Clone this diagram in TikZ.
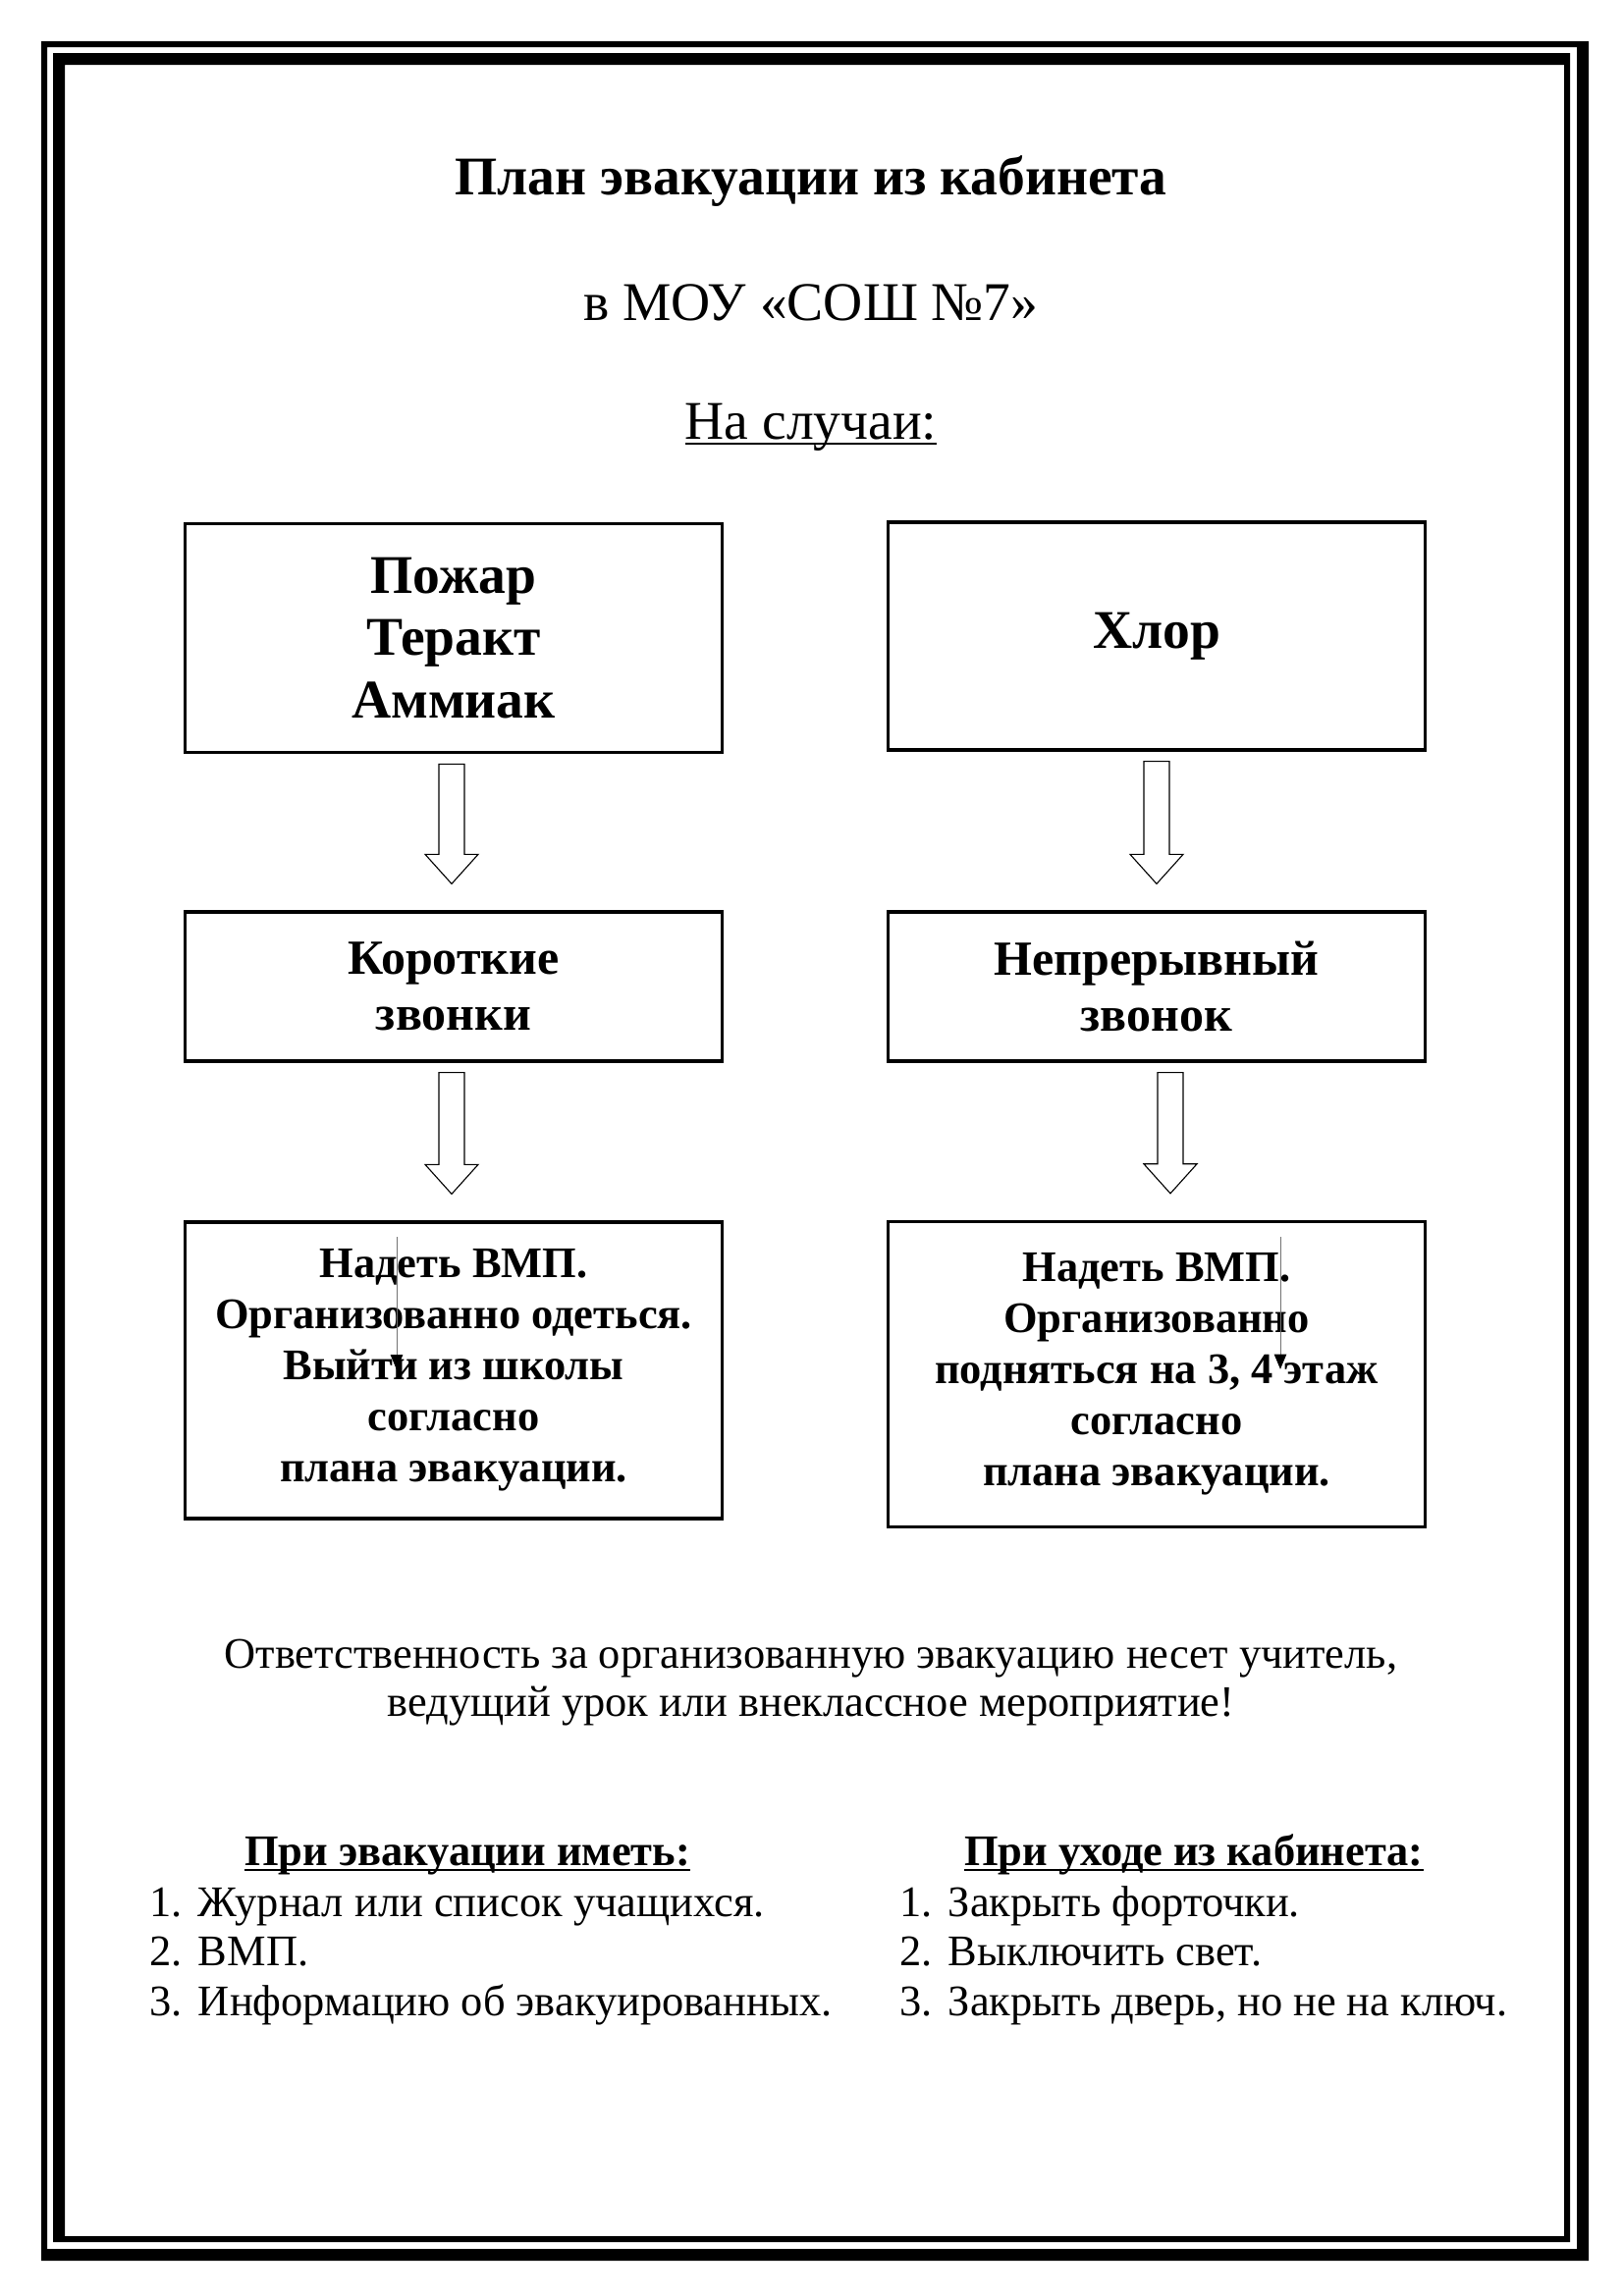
\documentclass[tikz,border=0pt]{standalone}
\usepackage{fontspec}
\setmainfont{Liberation Serif}
\usetikzlibrary{calc,arrows.meta}

% underline at a fixed depth below the baseline
\newcommand{\ulined}[1]{\setbox0\hbox{#1}\rlap{\rule[-2.2pt]{\wd0}{0.9pt}}\box0}

\tikzset{
    casebox/.style={draw,line width=1.2pt,minimum width=196.9pt,align=center,inner sep=0pt},
    bigcase/.style={casebox,minimum height=84pt,font=\bfseries\fontsize{20}{23}\selectfont},
    bellbox/.style={casebox,minimum height=54.7pt,font=\bfseries\fontsize{18}{20.5}\selectfont},
    todobox/.style={casebox,font=\bfseries\fontsize{16}{18.7}\selectfont},
    blockarrow/.style={draw,line width=0.4pt,fill=white},
    stray/.style={draw=black!55,line width=0.35pt,-{Triangle[length=5.5pt,width=4.5pt,color=black]}},
    headline/.style={anchor=base,font=\fontsize{20}{23}\selectfont},
    notice/.style={anchor=base,align=center,font=\fontsize{16}{17.6}\selectfont},
    listhead/.style={anchor=base,font=\bfseries\fontsize{16}{18.2}\selectfont},
    listbody/.style={anchor=base west,inner sep=0pt,font=\fontsize{16}{18.2}\selectfont}
}

% hollow arrow from one box down to the next
\newcommand{\evacarrow}[3]{%
    \draw[blockarrow] ($(#1.south)+(#3-13,10)$) -- ($(#1.south)+(#3+13,10)$)
      -- ($(#2.north)+(#3+13,-57)$) -- ($(#2.north)+(#3+27,-57)$)
      -- ($(#2.north)+(#3,-27)$) -- ($(#2.north)+(#3-27,-57)$)
      -- ($(#2.north)+(#3-13,-57)$) -- cycle;}

\begin{document}
\begin{tikzpicture}[x=0.36pt,y=-0.36pt]
    \useasboundingbox (0,0) rectangle (1653,2339);

    % page frame
    \fill[even odd rule] (42,42) rectangle (1618,2303) (48,48) rectangle (1606,2291);
    \fill[even odd rule] (54,54) rectangle (1599,2284) (66,66) rectangle (1593,2278);

    % heading
    \node[headline,font=\bfseries\fontsize{20}{23}\selectfont] (title) at (826,198) {План эвакуации из кабинета};
    \node[headline] (school) at (826,326) {в МОУ «СОШ №7»};
    \node[headline] (cases) at (826,447) {\ulined{На случаи:}};

    % cases
    \node[bigcase] (fire) at (462,650) {Пожар\\Теракт\\Аммиак};
    \node[bigcase,minimum height=83.5pt] (chlorine) at (1178,648) {Хлор};

    \node[bellbox] (shortbells) at (462,1005) {Короткие\\звонки};
    \node[bellbox] (longbell) at (1178,1005) {Непрерывный\\звонок};

    \node[todobox,minimum height=108.7pt] (leave) at (462,1396)
      {Надеть ВМП.\\Организованно одеться.\\Выйти из школы\\согласно\\плана эвакуации.};
    \node[todobox,minimum height=112pt] (goup) at (1178,1400)
      {Надеть ВМП.\\Организованно\\подняться на 3, 4 этаж\\согласно\\плана эвакуации.};

    \evacarrow{fire}{shortbells}{-2}
    \evacarrow{chlorine}{longbell}{0}
    \evacarrow{shortbells}{leave}{-2}
    \evacarrow{longbell}{goup}{14}

    % stray connectors left inside the boxes
    \coordinate (strayLa) at ($(leave.north)+(-58,17)$);
    \coordinate (strayLb) at ($(leave.north)+(-58,152)$);
    \coordinate (strayRa) at ($(goup.north)+(126,17)$);
    \coordinate (strayRb) at ($(goup.north)+(126,152)$);
    \draw[stray] (strayLa) -- (strayLb);
    \draw[stray] (strayRa) -- (strayRb);

    % responsibility
    \node[notice] (duty) at (826,1748)
      {Ответственность за организованную эвакуацию несет учитель,\\ведущий урок или внеклассное мероприятие!};

    % lists
    \node[listhead] (kithead) at (476,1900) {\ulined{При эвакуации иметь:}};
    \node[listbody] (kitlist) at (152,1952) {\begin{tabular}[t]{@{}l@{\hspace{5.8pt}}l@{}}
      1. & Журнал или список учащихся.\\
      2. & ВМП.\\
      3. & Информацию об эвакуированных.
    \end{tabular}};
    \node[listhead] (exithead) at (1216,1900) {\ulined{При уходе из кабинета:}};
    \node[listbody] (exitlist) at (916,1952) {\begin{tabular}[t]{@{}l@{\hspace{5.8pt}}l@{}}
      1. & Закрыть форточки.\\
      2. & Выключить свет.\\
      3. & Закрыть дверь, но не на ключ.
    \end{tabular}};
\end{tikzpicture}
\end{document}
